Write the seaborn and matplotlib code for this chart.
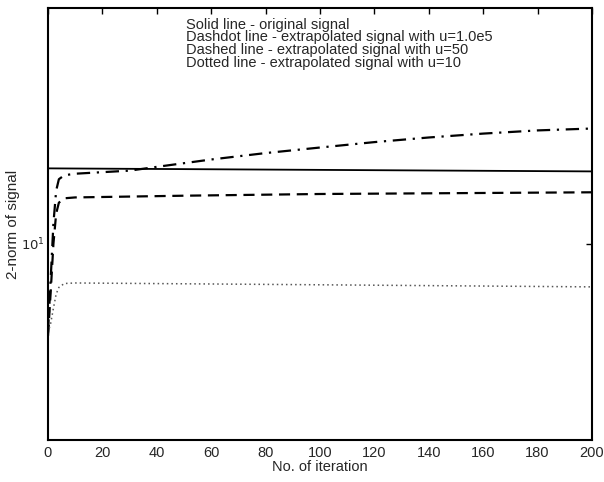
import matplotlib
matplotlib.use("Agg")
import matplotlib.pyplot as plt
import matplotlib.ticker as mticker
import seaborn as sns

# Data
solid_x = [0, 200]
solid_y = [14.2, 14.0]

dashdot_x = [0, 1, 2, 3, 4, 6, 10, 20, 30, 40, 60, 80, 100, 120, 140, 160, 180, 200]
dashdot_y = [6.6, 8.5, 11.0, 12.8, 13.5, 13.75, 13.85, 13.95, 14.05, 14.3, 14.8, 15.25,
             15.65, 16.05, 16.4, 16.7, 16.95, 17.1]

dashed_x = [0, 1, 2, 3, 4, 6, 10, 50, 100, 150, 200]
dashed_y = [6.5, 8.0, 10.0, 11.5, 12.1, 12.35, 12.4, 12.5, 12.6, 12.65, 12.7]

dotted_x = [0, 1, 2, 3, 4, 6, 10, 100, 200]
dotted_y = [6.6, 6.9, 7.4, 7.9, 8.15, 8.3, 8.32, 8.25, 8.17]

legend_lines = [
    "Solid line - original signal",
    "Dashdot line - extrapolated signal with u=1.0e5",
    "Dashed line - extrapolated signal with u=50",
    "Dotted line - extrapolated signal with u=10",
]

xticks = list(range(0, 201, 20))

sns.set_style("white")
plt.rcParams['font.family'] = ['Liberation Sans', 'DejaVu Sans']

fig = plt.figure(figsize=(6.04, 4.82), dpi=100)
ax = fig.add_axes([48/604, 42/482, 544/604, 432/482])

sns.lineplot(x=solid_x, y=solid_y, ax=ax, color='black', lw=1.3, linestyle='-')
sns.lineplot(x=dashdot_x, y=dashdot_y, ax=ax, color='black', lw=1.6,
             linestyle=(0, (6, 3, 1, 3)))
sns.lineplot(x=dashed_x, y=dashed_y, ax=ax, color='black', lw=1.6,
             linestyle=(0, (5, 3)))
sns.lineplot(x=dotted_x, y=dotted_y, ax=ax, color='#555555', lw=1.1,
             linestyle=(0, (1, 2)))

ax.set_yscale('log')
ax.set_xlim(0, 200)
ax.set_ylim(4, 30)
ax.set_xticks(xticks)
ax.set_xticklabels([str(t) for t in xticks])
ax.yaxis.set_major_locator(mticker.FixedLocator([10]))
ax.yaxis.set_minor_locator(mticker.NullLocator())
ax.set_yticklabels(['$10^1$'])
ax.tick_params(direction='in', top=True, right=True, length=4, width=1,
               labelsize=10.5, color='black')
ax.tick_params(axis='x', pad=4)
ax.tick_params(axis='y', pad=2, labelsize=9.5)
for s in ax.spines.values():
    s.set_linewidth(1.5)
    s.set_color('black')

ax.set_xlabel("No. of iteration", fontsize=10.5, labelpad=0)
ax.set_ylabel("2-norm of signal", fontsize=11)
ax.yaxis.set_label_coords(-0.051, 0.5)

ax.text(0.253, 0.978, "\n".join(legend_lines), transform=ax.transAxes,
        fontsize=10.5, va='top', ha='left', linespacing=0.88)

fig.savefig("out.png", dpi=100)
